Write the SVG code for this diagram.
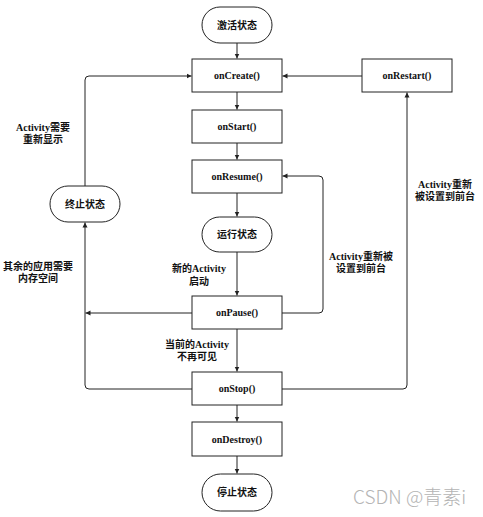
<svg xmlns="http://www.w3.org/2000/svg" width="483" height="517" viewBox="0 0 483 517">
<style>
.box{fill:#fff;stroke:#222;stroke-width:1}
.t{font-family:"Liberation Serif","Noto Sans CJK SC",serif;font-weight:bold;font-size:10px;fill:#111;text-anchor:middle}
.c{fill:none;stroke:#222;stroke-width:1}
.wm{font-family:"Noto Sans CJK SC","Noto Sans",sans-serif;font-size:19px;fill:#b4b4b4;font-weight:300}
</style>
<defs>
<marker id="ah" markerWidth="6" markerHeight="6" refX="5" refY="3" orient="auto" markerUnits="userSpaceOnUse">
<path d="M0,0.5 L5,3 L0,5.5 Z" fill="#222"/>
</marker>
</defs>
<rect width="483" height="517" fill="#fff"/>
<g id="connectors">
<path class="c" d="M237,43 V58.5" marker-end="url(#ah)"/>
<path class="c" d="M237,92 V109.5" marker-end="url(#ah)"/>
<path class="c" d="M237,143 V159.5" marker-end="url(#ah)"/>
<path class="c" d="M237,193 V216.5" marker-end="url(#ah)"/>
<path class="c" d="M237,252 V295.5" marker-end="url(#ah)"/>
<path class="c" d="M237,329 V371.5" marker-end="url(#ah)"/>
<path class="c" d="M237,405 V421.5" marker-end="url(#ah)"/>
<path class="c" d="M237,456 V473.5" marker-end="url(#ah)"/>
<path class="c" d="M362,76 H282.5" marker-end="url(#ah)"/>
<path class="c" d="M85,186 V80 Q85,76 89,76 H191.5" marker-end="url(#ah)"/>
<path class="c" d="M192,313 H85.5" marker-end="url(#ah)"/>
<path class="c" d="M192,389 H89 Q85,389 85,385 V222.5" marker-end="url(#ah)"/>
<path class="c" d="M282,389 H403 Q407,389 407,385 V92.5" marker-end="url(#ah)"/>
<path class="c" d="M282,313 H319 Q323,313 323,309 V180 Q323,176 319,176 H282.5" marker-end="url(#ah)"/>
</g>
<g id="labels">
<text class="t" x="43" y="131">Activity需要</text>
<text class="t" x="43" y="143">重新显示</text>
<text class="t" x="445" y="188">Activity重新</text>
<text class="t" x="445" y="200">被设置到前台</text>
<text class="t" x="361" y="260">Activity重新被</text>
<text class="t" x="361" y="272">设置到前台</text>
<text class="t" x="38" y="270">其余的应用需要</text>
<text class="t" x="38" y="282">内存空间</text>
<text class="t" x="199" y="272">新的Activity</text>
<text class="t" x="199" y="285">启动</text>
<text class="t" x="197" y="348">当前的Activity</text>
<text class="t" x="197" y="360">不再可见</text>
</g>
<g id="n-active"><rect class="box" x="202" y="7" width="70" height="36" rx="18"/><text class="t" x="237" y="29">激活状态</text></g>
<g id="n-oncreate"><rect class="box" x="192" y="59" width="90" height="33"/><text class="t" x="237" y="79">onCreate()</text></g>
<g id="n-onrestart"><rect class="box" x="362" y="59" width="90" height="33"/><text class="t" x="407" y="79">onRestart()</text></g>
<g id="n-onstart"><rect class="box" x="192" y="110" width="90" height="33"/><text class="t" x="237" y="130">onStart()</text></g>
<g id="n-onresume"><rect class="box" x="192" y="160" width="90" height="33"/><text class="t" x="237" y="180">onResume()</text></g>
<g id="n-terminated"><rect class="box" x="50" y="186" width="70" height="36" rx="18"/><text class="t" x="85" y="208">终止状态</text></g>
<g id="n-running"><rect class="box" x="202" y="217" width="70" height="35" rx="17.5"/><text class="t" x="237" y="238">运行状态</text></g>
<g id="n-onpause"><rect class="box" x="192" y="296" width="90" height="33"/><text class="t" x="237" y="316">onPause()</text></g>
<g id="n-onstop"><rect class="box" x="192" y="372" width="90" height="33"/><text class="t" x="237" y="392">onStop()</text></g>
<g id="n-ondestroy"><rect class="box" x="192" y="422" width="90" height="34"/><text class="t" x="237" y="443">onDestroy()</text></g>
<g id="n-stopped"><rect class="box" x="202" y="474" width="70" height="37" rx="18.5"/><text class="t" x="237" y="496">停止状态</text></g>
<text class="wm" x="353" y="504">CSDN @青素i</text>
</svg>
